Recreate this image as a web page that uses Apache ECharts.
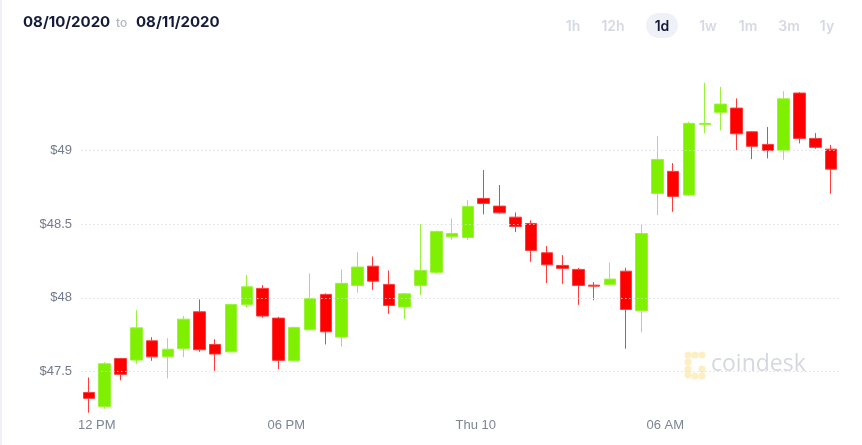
<!DOCTYPE html>
<html>
<head>
<meta charset="utf-8">
<script src="https://cdn.jsdelivr.net/npm/echarts@6/dist/echarts.min.js"></script>
<style>
html,body{margin:0;padding:0;background:#fff;}
#c{width:862px;height:445px;}
</style>
</head>
<body>
<div id="c"></div>
<script>
// 30-minute candle start times
const times = ['11:30','12:00','12:30','13:00','13:30','14:00','14:30','15:00','15:30','16:00','16:30','17:00',
  '17:30','18:00','18:30','19:00','19:30','20:00','20:30','21:00','21:30','22:00','22:30','23:00',
  '23:30','00:00','00:30','01:00','01:30','02:00','02:30','03:00','03:30','04:00','04:30','05:00',
  '05:30','06:00','06:30','07:00','07:30','08:00','08:30','09:00','09:30','10:00','10:30','11:00'];
const openVals = [47.357,47.262,47.588,47.577,47.708,47.599,47.656,47.905,47.683,47.633,47.955,48.064,
  47.862,47.572,47.783,48.023,47.733,48.084,48.215,48.091,47.937,48.084,48.173,48.414,
  48.410,48.675,48.623,48.548,48.505,48.306,48.220,48.193,48.086,48.091,48.181,47.912,
  48.709,48.859,48.698,49.178,49.260,49.289,49.128,49.042,49.003,49.391,49.083,49.010];
const closeVals = [47.317,47.552,47.480,47.796,47.599,47.651,47.855,47.647,47.618,47.955,48.075,47.876,
  47.575,47.799,47.996,47.769,48.098,48.209,48.113,47.948,48.027,48.186,48.451,48.437,
  48.621,48.641,48.577,48.485,48.322,48.224,48.200,48.084,48.079,48.127,47.921,48.437,
  48.940,48.689,49.185,49.185,49.316,49.114,49.029,49.001,49.352,49.083,49.022,48.874];
const lowVals = [47.219,47.246,47.439,47.552,47.572,47.452,47.597,47.633,47.504,47.630,47.935,47.864,
  47.516,47.565,47.780,47.683,47.667,48.034,48.054,47.891,47.857,48.018,48.165,48.394,
  48.392,48.567,48.571,48.446,48.245,48.100,48.095,47.952,47.984,48.086,47.654,47.765,
  48.562,48.584,48.691,49.117,49.137,49.003,48.942,48.947,48.938,49.049,49.012,48.707];
const highVals = [47.459,47.563,47.592,47.916,47.733,47.726,47.876,47.989,47.719,47.960,48.154,48.086,
  47.871,47.803,48.166,48.030,48.193,48.310,48.281,48.186,48.034,48.501,48.456,48.539,
  48.664,48.868,48.766,48.580,48.526,48.351,48.290,48.202,48.107,48.240,48.204,48.499,
  49.099,48.915,49.196,49.461,49.433,49.355,49.132,49.160,49.404,49.397,49.119,49.039];
// x tick labels keyed by the time at which they sit
const tickTimes = ['12:00','18:00','00:00','06:00'];
const tickLabels = ['12 PM','06 PM','Thu 10','06 AM'];
const rangeButtons = ['1h','12h','1d','1w','1m','3m','1y'];
const activeRange = '1d';
const dateFrom = '08/10/2020';
const dateTo = '08/11/2020';

const candleData = times.map((t, i) => [openVals[i], closeVals[i], lowVals[i], highVals[i]]);
const tickPos = tickTimes.map(t => times.indexOf(t));

const chart = echarts.init(document.getElementById('c'), null, {renderer: 'canvas'});

const btnX = [573, 613, 662, 708, 748, 789, 827];
const graphics = [
  {type: 'rect', left: 0, top: 0, shape: {width: 2, height: 445}, style: {fill: '#eef1f7'}, silent: true},
  {type: 'text', x: 23, y: 22, style: {text: dateFrom, font: '700 15px Inter', fill: '#141a3a', verticalAlign: 'middle'}},
  {type: 'text', x: 116, y: 23, style: {text: 'to', font: '500 12px Inter', fill: '#b3b6c2', verticalAlign: 'middle'}},
  {type: 'text', x: 136, y: 22, style: {text: dateTo, font: '700 15px Inter', fill: '#141a3a', verticalAlign: 'middle'}},
  // watermark
  {type: 'text', x: 711, y: 364, style: {text: 'coindesk', font: '400 23px "Open Sans"', fill: '#d5d8e0', verticalAlign: 'middle'}, silent: true}
];
// watermark logo dots
[[688,355],[695,355],[702,355],[688,362],[688,369],[688,375],[695,376],[702,376],[702,369]].forEach(p => {
  graphics.push({type: 'circle', shape: {cx: p[0], cy: p[1], r: 3.6}, style: {fill: '#fdeec4'}, silent: true});
});
rangeButtons.forEach((b, i) => {
  const active = b === activeRange;
  if (active) {
    graphics.push({type: 'rect', shape: {x: btnX[i] - 16, y: 13, width: 32, height: 25, r: 12.5}, style: {fill: '#eff1f7'}});
  }
  graphics.push({type: 'text', x: btnX[i], y: 26.5, style: {text: b, font: '600 14px Inter', fill: active ? '#141a3a' : '#d6d9e4', align: 'center', verticalAlign: 'middle'}});
});

const option = {
  animation: false,
  backgroundColor: '#fff',
  grid: {left: 81, right: 23, top: 77, bottom: 0, outerBoundsMode: 'none'},
  xAxis: [
    {
      type: 'category', data: times, boundaryGap: true,
      axisLine: {show: false}, axisTick: {show: false}, axisLabel: {show: false}, splitLine: {show: false}
    },
    {
      type: 'value', min: 0, max: times.length, position: 'bottom', offset: -34,
      axisLine: {show: false}, axisTick: {show: false}, splitLine: {show: false},
      axisLabel: {
        customValues: tickPos, margin: 8,
        color: '#7d8494', fontSize: 13, fontFamily: 'Liberation Sans, Arial, sans-serif',
        formatter: v => { const k = tickPos.indexOf(Math.round(v)); return k >= 0 ? tickLabels[k] : ''; }
      }
    }
  ],
  yAxis: {
    type: 'value', min: 47, max: 49.5, interval: 0.5, z: 5,
    axisLine: {show: false}, axisTick: {show: false},
    axisLabel: {
      showMinLabel: false, showMaxLabel: false, margin: 9,
      color: '#737a8b', fontSize: 13, fontFamily: 'Liberation Sans, Arial, sans-serif',
      formatter: v => '$' + (+v.toFixed(2))
    },
    splitLine: {show: true, showMinLine: false, showMaxLine: false, lineStyle: {type: [1.5, 2.5], color: 'rgba(214,219,234,0.9)', width: 1}}
  },
  series: [{
    type: 'candlestick',
    xAxisIndex: 0,
    data: candleData,
    barWidth: 12,
    itemStyle: {
      color: '#7ff000', color0: '#ff0000',
      borderColor: '#9af23c', borderColor0: '#ff3b3b', borderWidth: 1
    }
  }],
  graphic: graphics
};
chart.setOption(option);
</script>
</body>
</html>
